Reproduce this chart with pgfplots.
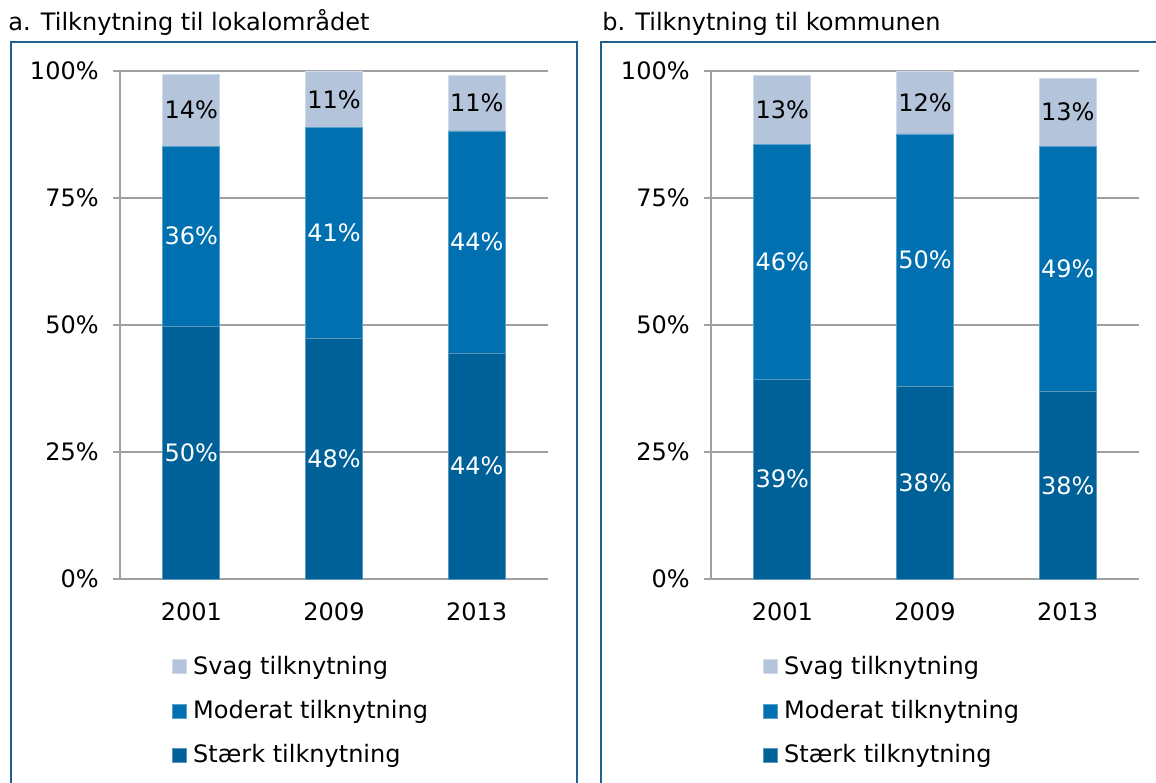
\documentclass[border=0pt]{standalone}
\usepackage{fontspec}
\setmainfont{DejaVu Sans}
\usepackage{pgfplots}
\usepackage{pgfplotstable}
\pgfplotsset{compat=1.18}
\definecolor{svag}{RGB}{180,196,219}
\definecolor{mod}{RGB}{0,112,176}
\definecolor{staerk}{RGB}{0,96,152}
\definecolor{framec}{RGB}{31,95,141}
\definecolor{gridc}{RGB}{160,160,160}
\newcommand\fsz{\fontsize{12}{14.4}\selectfont}

\pgfplotstableread{
x s m w
0 49.8 35.4 14.2
1 47.4 41.4 11.2
2 44.5 43.7 11.0
}\lokal
\pgfplotstableread{
x s m w
0 39.3 46.3 13.6
1 37.9 49.7 12.4
2 36.9 48.3 13.4
}\kommune
\pgfplotstableread{
x y lab
0 24.9 50
1 23.7 48
2 22.25 44
0 67.5 36
1 68.1 41
2 66.35 44
}\lokalwhite
\pgfplotstableread{
x y lab
0 92.3 14
1 94.4 11
2 93.7 11
}\lokalblack
\pgfplotstableread{
x y lab
0 19.65 39
1 18.95 38
2 18.45 38
0 62.45 46
1 62.75 50
2 61.05 49
}\kommunewhite
\pgfplotstableread{
x y lab
0 92.4 13
1 93.8 12
2 91.9 13
}\kommuneblack

\pgfplotsset{
  base/.style={
    scale only axis, width=214pt, height=254pt,
    xmin=-0.5, xmax=2.5, ymin=0, ymax=100,
    anchor=south west, font=\fsz,
  },
  main/.style={base,
    ybar stacked, bar width=28.5pt,
    axis x line*=bottom, axis y line*=left,
    axis line style={-, draw=gridc, line width=0.75pt},
    ymajorgrids, grid style={draw=gridc, line width=0.75pt},
    xtick={0,1,2}, xticklabels={2001,2009,2013},
    ytick={0,25,50,75,100}, yticklabels={0\%,25\%,50\%,75\%,100\%},
    /pgf/number format/assume math mode=true,
    tick align=outside, major tick length=3.5pt,
    xtick style={draw=none}, ytick style={draw=gridc, line width=0.75pt},
    tick label style={font=\fsz},
    xticklabel style={inner sep=0pt, anchor=north, yshift=-8pt},
    yticklabel style={inner sep=0pt, anchor=east, xshift=-7pt},
    legend style={at={(axis description cs:0.1215,-0.151)}, anchor=north west,
      draw=none, fill=none, inner sep=0pt, row sep=11.5pt, column sep=3pt,
      nodes={inner sep=0pt, font=\fsz}},
    legend cell align=left, reverse legend,
    legend image code/.code={\fill[##1] (0pt,-3.5pt) rectangle (7pt,3.5pt);},
  },
  lab/.style={draw=none, mark=none, nodes near coords={\pgfplotspointmeta\%},
    point meta=explicit symbolic,
    every node near coord/.append style={anchor=center, inner sep=0pt, font=\fsz, text=#1}},
}

\begin{document}
\begin{tikzpicture}
\useasboundingbox (0,0) rectangle (578pt,391pt);
\draw[framec, line width=1pt] (5.5pt,-5pt) -- (5.5pt,370pt) -- (288.5pt,370pt) -- (288.5pt,-5pt);
\draw[framec, line width=1pt] (300.5pt,-5pt) -- (300.5pt,370pt) -- (600pt,370pt);
\node[anchor=base west, inner sep=0pt, font=\fsz] at (4pt,375.5pt) {a. Tilknytning til lokalområdet};
\node[anchor=base west, inner sep=0pt, font=\fsz] at (301pt,375.5pt) {b. Tilknytning til kommunen};

\begin{axis}[main, at={(60pt,101.5pt)}]
\addplot[fill=staerk, draw=staerk!65!white, line width=0.4pt] table[x=x,y=s]{\lokal};
\addplot[fill=mod, draw=mod!65!white, line width=0.4pt] table[x=x,y=m]{\lokal};
\addplot[fill=svag, draw=svag!60!white, line width=0.4pt] table[x=x,y=w]{\lokal};
\legend{Stærk tilknytning,Moderat tilknytning,Svag tilknytning}
\end{axis}
\begin{axis}[base, at={(60pt,101.5pt)}, hide axis, clip=false]
\addplot[lab=white] table[x=x,y=y,meta=lab]{\lokalwhite};
\addplot[lab=black] table[x=x,y=y,meta=lab]{\lokalblack};
\end{axis}

\begin{axis}[main, at={(355.5pt,101.5pt)}]
\addplot[fill=staerk, draw=staerk!65!white, line width=0.4pt] table[x=x,y=s]{\kommune};
\addplot[fill=mod, draw=mod!65!white, line width=0.4pt] table[x=x,y=m]{\kommune};
\addplot[fill=svag, draw=svag!60!white, line width=0.4pt] table[x=x,y=w]{\kommune};
\legend{Stærk tilknytning,Moderat tilknytning,Svag tilknytning}
\end{axis}
\begin{axis}[base, at={(355.5pt,101.5pt)}, hide axis, clip=false]
\addplot[lab=white] table[x=x,y=y,meta=lab]{\kommunewhite};
\addplot[lab=black] table[x=x,y=y,meta=lab]{\kommuneblack};
\end{axis}
\end{tikzpicture}
\end{document}
